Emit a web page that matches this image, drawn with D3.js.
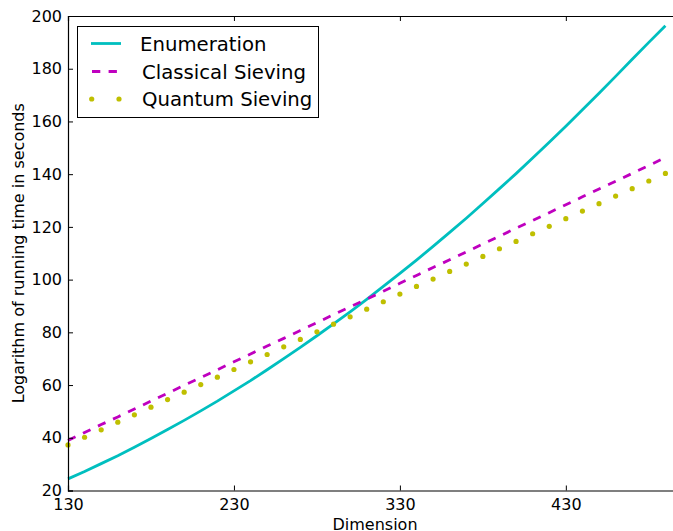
<!DOCTYPE html>
<html>
<head>
<meta charset="utf-8">
<script src="https://cdn.jsdelivr.net/npm/d3@7"></script>
<style>
  html, body { margin: 0; padding: 0; background: #fff; }
  svg { display: block; }
  text { font-family: "DejaVu Sans", sans-serif; fill: #000; }
</style>
</head>
<body>
<svg id="chart" width="673" height="531"></svg>
<script>
const dimensions = [130,140,150,160,170,180,190,200,210,220,230,240,250,260,270,280,290,300,310,320,330,340,350,360,370,380,390,400,410,420,430,440,450,460,470,480,490];
const enumeration = [24.4,27.2,30.2,33.2,36.4,39.7,43.1,46.6,50.2,53.9,57.8,61.7,65.8,70.0,74.3,78.7,83.2,87.8,92.5,97.4,102.4,107.4,112.6,117.9,123.3,128.9,134.5,140.2,146.1,152.1,158.2,164.4,170.7,177.1,183.6,190.0,196.3];
const classicalSieving = [39.0,42.0,45.0,47.9,50.9,53.9,56.9,59.9,62.8,65.8,68.8,71.8,74.8,77.7,80.7,83.7,86.7,89.7,92.6,95.6,98.6,101.6,104.6,107.5,110.5,113.5,116.5,119.5,122.4,125.4,128.4,131.4,134.4,137.3,140.3,143.3,146.3];
const quantumSieving = [37.3,40.2,43.0,45.9,48.7,51.6,54.5,57.3,60.2,63.0,65.9,68.8,71.6,74.5,77.3,80.2,83.1,85.9,88.8,91.6,94.5,97.4,100.2,103.1,105.9,108.8,111.7,114.5,117.4,120.2,123.1,126.0,128.8,131.7,134.5,137.4,140.3];
const xTicks = [130,230,330,430];
const yTicks = [20,40,60,80,100,120,140,160,180,200];
const seriesNames = ["Enumeration","Classical Sieving","Quantum Sieving"];
const xLabel = "Dimension";
const yLabel = "Logarithm of running time in seconds";

const svg = d3.select("#chart");
const L = 68, R = 682, T = 16, B = 490.5;
const x = d3.scaleLinear().domain([130, 500]).range([L, R]);
const y = d3.scaleLinear().domain([20, 200]).range([B, T]);

const cyan = "#00BFBF", magenta = "#BF00BF", yellow = "#BFBF00";

// lines
const line = (vals) => d3.line().x((d, i) => x(dimensions[i])).y((d) => y(d))(vals);

svg.append("path").attr("d", line(enumeration))
  .attr("fill", "none").attr("stroke", cyan).attr("stroke-width", 2.8);
svg.append("path").attr("d", line(classicalSieving))
  .attr("fill", "none").attr("stroke", magenta).attr("stroke-width", 2.8)
  .attr("stroke-dasharray", "8.3,8.3");
svg.append("g").selectAll("circle").data(quantumSieving).join("circle")
  .attr("cx", (d, i) => x(dimensions[i])).attr("cy", d => y(d))
  .attr("r", 2.6).attr("fill", yellow);

// axes (matplotlib classic style: inward ticks on all sides)
const tickLen = 5;
const axB = svg.append("g").attr("transform", `translate(0,${B})`)
  .call(d3.axisBottom(x).tickValues(xTicks).tickSize(-tickLen).tickPadding(8).tickFormat(d3.format("d")));
const axT = svg.append("g").attr("transform", `translate(0,${T})`)
  .call(d3.axisTop(x).tickValues(xTicks).tickSize(-tickLen).tickFormat(""));
const axL = svg.append("g").attr("transform", `translate(${L},0)`)
  .call(d3.axisLeft(y).tickValues(yTicks).tickSize(-tickLen).tickPadding(6).tickFormat(d3.format("d")));
const axR = svg.append("g").attr("transform", `translate(${R},0)`)
  .call(d3.axisRight(y).tickValues(yTicks).tickSize(-tickLen).tickFormat(""));
[axB, axT, axL, axR].forEach(a => {
  a.select(".domain").attr("stroke", "#000").attr("stroke-width", 1.2);
  a.selectAll(".tick line").attr("stroke", "#000").attr("stroke-width", 1);
  a.selectAll(".tick text").attr("font-size", 16).attr("font-family", "DejaVu Sans").attr("fill", "#000");
});
axB.selectAll(".tick text").attr("dy", "0.71em").attr("y", 8);
axL.selectAll(".tick text").attr("x", -6);

// axis labels
svg.append("text").attr("x", (L + R) / 2).attr("y", 529.5).attr("text-anchor", "middle")
  .attr("font-size", 16).text(xLabel);
svg.append("text").attr("transform", `translate(23.5,${(T + B) / 2}) rotate(-90)`)
  .attr("text-anchor", "middle").attr("font-size", 16).text(yLabel);

// legend
const lg = svg.append("g");
lg.append("rect").attr("x", 77.5).attr("y", 26.5).attr("width", 241).attr("height", 91)
  .attr("fill", "#fff").attr("stroke", "#000").attr("stroke-width", 1);
const rowsY = [43.5, 71.5, 99];
lg.append("line").attr("x1", 91).attr("x2", 121).attr("y1", rowsY[0]).attr("y2", rowsY[0])
  .attr("stroke", cyan).attr("stroke-width", 2.8);
lg.append("line").attr("x1", 91).attr("x2", 121).attr("y1", rowsY[1]).attr("y2", rowsY[1])
  .attr("stroke", magenta).attr("stroke-width", 2.8).attr("stroke-dasharray", "8.3,8.3")
  .attr("stroke-dashoffset", -1);
[91.7, 119].forEach(cx => lg.append("circle").attr("cx", cx).attr("cy", rowsY[2]).attr("r", 2.6).attr("fill", yellow));
const textX = [140, 142, 142];
seriesNames.forEach((n, i) => {
  lg.append("text").attr("x", textX[i]).attr("y", rowsY[i]).attr("dy", "0.36em")
    .attr("font-size", 19.7).text(n);
});
</script>
</body>
</html>
